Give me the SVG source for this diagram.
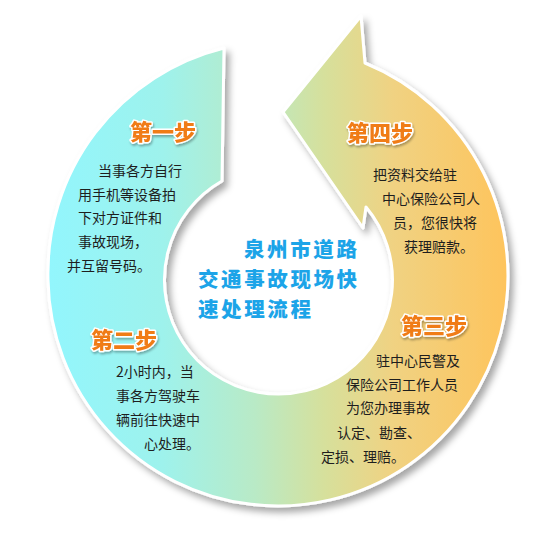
<svg xmlns="http://www.w3.org/2000/svg" width="550" height="550" viewBox="0 0 550 550">
  <defs>
    <linearGradient id="ringGrad" gradientUnits="userSpaceOnUse" x1="48" y1="0" x2="508" y2="0">
      <stop offset="0" stop-color="#92f6fd"/>
      <stop offset="0.25" stop-color="#9ef2ec"/>
      <stop offset="0.45" stop-color="#b9eac6"/>
      <stop offset="0.6" stop-color="#d6e09c"/>
      <stop offset="0.75" stop-color="#f0d282"/>
      <stop offset="1" stop-color="#fec45c"/>
    </linearGradient>
    <filter id="shadow" x="-10%" y="-10%" width="125%" height="125%">
      <feGaussianBlur in="SourceAlpha" stdDeviation="3.5"/>
      <feOffset dx="4" dy="5" result="b"/>
      <feFlood flood-color="#000" flood-opacity="0.35"/>
      <feComposite in2="b" operator="in"/>
      <feMerge><feMergeNode/><feMergeNode in="SourceGraphic"/></feMerge>
    </filter>
    <filter id="tshadow" x="-10%" y="-20%" width="130%" height="150%">
      <feGaussianBlur in="SourceAlpha" stdDeviation="1"/>
      <feOffset dx="1" dy="1.5" result="b"/>
      <feFlood flood-color="#000" flood-opacity="0.3"/>
      <feComposite in2="b" operator="in"/>
      <feMerge><feMergeNode/><feMergeNode in="SourceGraphic"/></feMerge>
    </filter>
    <style>
      .head { font-family: "Noto Sans CJK SC", "Noto Sans", sans-serif; font-size: 22px; font-weight: 900; fill: #f07c16; stroke: #ffffff; stroke-width: 3; stroke-linejoin: round; paint-order: stroke; }
      .body { font-family: "Noto Sans CJK SC", "Noto Sans", sans-serif; font-size: 14px; fill: #1e1e1e; }
      .title { font-family: "Noto Sans CJK SC", "Noto Sans", sans-serif; font-size: 20.5px; letter-spacing: 2.6px; font-weight: 900; fill: #1ca4e8; }
    </style>
  </defs>
  <rect width="550" height="550" fill="#ffffff"/>
  <g id="connectors">
    <path id="ring" filter="url(#shadow)" fill="url(#ringGrad)" stroke="#ffffff" stroke-width="3" stroke-linejoin="round"
      d="M 224 48 L 222 181 A 114 114 0 1 0 366 207 L 363 228 L 283 112 L 361 16 L 365 63 A 230 230 0 1 1 48 280 A 232 232 0 0 1 224 48 Z"/>
  </g>
  <g id="title">
    <text class="title" x="244" y="257">泉州市道路</text>
    <text class="title" x="198" y="287">交通事故现场快</text>
    <text class="title" x="198" y="317">速处理流程</text>
  </g>
  <g id="step1">
    <text class="head" filter="url(#tshadow)" x="130" y="140">第一步</text>
    <text class="body" x="98" y="176">当事各方自行</text>
    <text class="body" x="78" y="200">用手机等设备拍</text>
    <text class="body" x="78" y="223">下对方证件和</text>
    <text class="body" x="78" y="247">事故现场，</text>
    <text class="body" x="67" y="271">并互留号码。</text>
  </g>
  <g id="step2">
    <text class="head" filter="url(#tshadow)" x="91" y="348">第二步</text>
    <text class="body" x="116" y="377">2小时内，当</text>
    <text class="body" x="116" y="401">事各方驾驶车</text>
    <text class="body" x="116" y="425">辆前往快速中</text>
    <text class="body" x="144" y="449">心处理。</text>
  </g>
  <g id="step3">
    <text class="head" filter="url(#tshadow)" x="401" y="334">第三步</text>
    <text class="body" x="376" y="366">驻中心民警及</text>
    <text class="body" x="346" y="390">保险公司工作人员</text>
    <text class="body" x="346" y="413">为您办理事故</text>
    <text class="body" x="337" y="438">认定、勘查、</text>
    <text class="body" x="321" y="462">定损、理赔。</text>
  </g>
  <g id="step4">
    <text class="head" filter="url(#tshadow)" x="347" y="141">第四步</text>
    <text class="body" x="373" y="180">把资料交给驻</text>
    <text class="body" x="382" y="204">中心保险公司人</text>
    <text class="body" x="393" y="228">员，您很快将</text>
    <text class="body" x="404" y="252">获理赔款。</text>
  </g>
</svg>
